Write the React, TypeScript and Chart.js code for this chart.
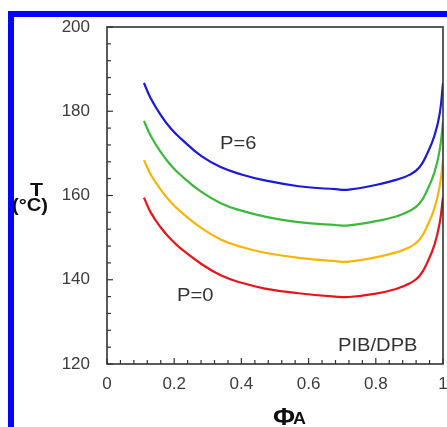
import { useEffect, useRef } from 'react';
import { Chart, registerables } from 'chart.js';

Chart.register(...registerables);

// Volume fraction of A (x values shared by all curves)
const phiA = [0.11, 0.13, 0.16, 0.19, 0.22, 0.28, 0.34, 0.40, 0.47, 0.57, 0.68, 0.72, 0.80, 0.86, 0.90, 0.93, 0.955, 0.975, 0.99, 1.0];

// Spinodal temperatures (°C) for pressures P = 6, 4, 2, 0
const tP6 = [186.7, 183.1, 179.1, 175.9, 173.5, 169.4, 166.7, 165.0, 163.6, 162.2, 161.5, 161.4, 162.5, 163.7, 164.9, 166.7, 170.3, 174.3, 179.3, 186.7];
const tP4 = [177.7, 174.2, 170.3, 167.2, 164.8, 160.9, 158.1, 156.4, 155.0, 153.7, 153.0, 152.9, 153.9, 155.0, 156.3, 158.1, 161.6, 165.6, 170.7, 177.5];
const tP2 = [168.4, 165.0, 161.4, 158.4, 156.1, 152.3, 149.5, 147.8, 146.4, 145.2, 144.4, 144.3, 145.3, 146.5, 147.7, 149.5, 153.1, 157.1, 162.1, 168.4];
const tP0 = [159.5, 156.0, 152.4, 149.6, 147.4, 143.8, 141.0, 139.3, 137.9, 136.8, 136.0, 135.9, 136.7, 137.8, 139.1, 140.9, 144.4, 148.4, 153.4, 159.7];

const xTickLabels = ['0', '0.2', '0.4', '0.6', '0.8', '1'];
const yTickLabels = ['120', '140', '160', '180', '200'];

const FONT = 'Arial, "Liberation Sans", sans-serif';

const framePlugin = {
  id: 'frameTicks',
  afterDatasetsDraw(chart: any) {
    const { ctx, chartArea: a, scales } = chart;
    ctx.save();
    ctx.strokeStyle = '#333333';
    ctx.lineWidth = 1.2;
    scales.x.ticks.forEach((t: any) => {
      const px = scales.x.getPixelForValue(t.value);
      const len = t.label !== '' ? 6 : 4;
      ctx.beginPath();
      ctx.moveTo(px, a.bottom);
      ctx.lineTo(px, a.bottom - len);
      ctx.stroke();
    });
    scales.y.ticks.forEach((t: any) => {
      const py = scales.y.getPixelForValue(t.value);
      const len = t.label !== '' ? 6 : 4;
      ctx.beginPath();
      ctx.moveTo(a.left, py);
      ctx.lineTo(a.left + len, py);
      ctx.stroke();
    });
    ctx.lineWidth = 1.6;
    ctx.strokeRect(a.left, a.top, a.right - a.left, a.bottom - a.top);
    ctx.restore();
  },
};

function makeSeries(values: number[]) {
  return values.map((v, i) => ({ x: phiA[i], y: v }));
}

export default function App() {
  const ref = useRef<HTMLCanvasElement | null>(null);

  useEffect(() => {
    if (!ref.current) return;
    const ds = (label: string, vals: number[], color: string) => ({
      label,
      data: makeSeries(vals),
      borderColor: color,
      backgroundColor: color,
      borderWidth: 2.2,
      pointRadius: 0,
      tension: 0.45,
      fill: false,
    });
    const noPad = (s: any) => {
      s.paddingLeft = 0;
      s.paddingRight = 0;
      s.paddingTop = 0;
      s.paddingBottom = 0;
    };
    const chart = new Chart(ref.current, {
      type: 'line',
      data: {
        datasets: [
          ds('P=6', tP6, '#1a1ad8'),
          ds('P=4', tP4, '#3cb93c'),
          ds('P=2', tP2, '#f5b50a'),
          ds('P=0', tP0, '#e8141c'),
        ],
      },
      options: {
        animation: false,
        responsive: false,
        devicePixelRatio: 1,
        layout: { padding: { top: 27, right: 4, left: 0, bottom: 0 } },
        plugins: { legend: { display: false }, tooltip: { enabled: false } },
        scales: {
          x: {
            type: 'linear',
            min: 0,
            max: 1,
            grid: { display: false, drawTicks: false },
            border: { display: false },
            afterFit: (s: any) => { s.height = 63; noPad(s); },
            ticks: {
              stepSize: 0.04,
              autoSkip: false,
              maxRotation: 0,
              padding: 10,
              color: '#3c3c3c',
              font: { family: FONT, size: 17 },
              callback: (v: any) => {
                const k = Math.round(Number(v) * 5 * 1000) / 1000;
                if (Math.abs(k - Math.round(k)) < 1e-6) return xTickLabels[Math.round(k)];
                return '';
              },
            },
          },
          y: {
            type: 'linear',
            min: 120,
            max: 200,
            grid: { display: false, drawTicks: false },
            border: { display: false },
            afterFit: (s: any) => { s.width = 107; noPad(s); },
            ticks: {
              stepSize: 4,
              autoSkip: false,
              padding: 17,
              color: '#3c3c3c',
              font: { family: FONT, size: 17 },
              callback: (v: any) => {
                const n = Math.round(Number(v));
                if (n % 20 === 0) return yTickLabels[(n - 120) / 20];
                return '';
              },
            },
          },
        },
      },
      plugins: [framePlugin],
    });
    return () => chart.destroy();
  }, []);

  const txt = (extra: any) => ({
    position: 'absolute' as const,
    fontFamily: FONT,
    lineHeight: 1,
    whiteSpace: 'nowrap' as const,
    transform: 'scaleX(1.12)',
    transformOrigin: 'left top',
    ...extra,
  });

  return (
    <div style={{ position: 'absolute', left: 0, top: 0, width: 447, height: 427, background: '#ffffff', overflow: 'hidden' }}>
      <canvas ref={ref} width={447} height={427} style={{ position: 'absolute', left: 0, top: 0, width: 447, height: 427 }} />
      <div style={{ position: 'absolute', left: 8, top: 11, width: 439, height: 6, background: '#0505ff' }} />
      <div style={{ position: 'absolute', left: 8, top: 11, width: 6, height: 416, background: '#0505ff' }} />
      <div style={txt({ left: 220, top: 134, fontSize: 18, color: '#333' })}>P=6</div>
      <div style={txt({ left: 177, top: 286, fontSize: 18, color: '#333' })}>P=0</div>
      <div style={txt({ left: 338, top: 336, fontSize: 18, color: '#333' })}>PIB/DPB</div>
      <div style={txt({ left: 30, top: 180, fontSize: 19, fontWeight: 'bold', color: '#111' })}>T</div>
      <div style={txt({ left: 12, top: 196, fontSize: 18, fontWeight: 'bold', color: '#111' })}>(°C)</div>
      <div style={txt({ left: 273, top: 405, fontSize: 24, fontWeight: 'bold', color: '#111' })}>Φ</div>
      <div style={txt({ left: 293, top: 411, fontSize: 16, fontWeight: 'bold', color: '#111' })}>A</div>
    </div>
  );
}
